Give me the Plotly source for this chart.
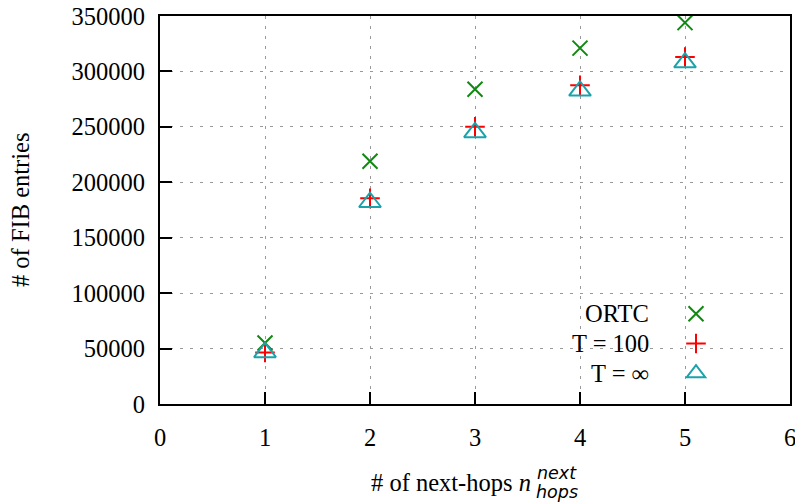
import plotly.graph_objects as go

# ---- data ----
next_hops = [1, 2, 3, 4, 5]
ortc = [55000, 219000, 284000, 321000, 344000]
t100 = [46500, 185500, 250000, 287500, 313000]
tinf = [46500, 182000, 245000, 282500, 308000]
series_names = ["ORTC", "T = 100", "T = \u221e"]
x_ticks = [0, 1, 2, 3, 4, 5, 6]
y_ticks = [0, 50000, 100000, 150000, 200000, 250000, 300000, 350000]

FONT = "Liberation Serif"
FS = 24.5
W, H = 795, 503
L, R, T, B = 160, 5, 16, 99
PW, PH = W - L - R, H - T - B

fig = go.Figure()
fig.add_trace(go.Scatter(x=next_hops, y=ortc, mode="markers", name=series_names[0],
                         marker=dict(symbol="x-thin-open", size=15, color="#118811",
                                     line=dict(width=2, color="#118811"))))
fig.add_trace(go.Scatter(x=next_hops, y=t100, mode="markers", name=series_names[1],
                         marker=dict(symbol="cross-thin-open", size=14, color="#ff0000",
                                     line=dict(width=2, color="#ff0000"))))
fig.add_trace(go.Scatter(x=next_hops, y=tinf, mode="markers", name=series_names[2],
                         marker=dict(symbol="triangle-up-open", size=19, color="#1ba3ab",
                                     line=dict(width=2, color="#1ba3ab"))))

grid = dict(showgrid=True, gridcolor="#999999", gridwidth=1.3, griddash="3px,7px")
fig.update_xaxes(range=[0, 6], tickvals=x_ticks, ticks="inside", ticklen=12, tickwidth=2,
                 tickcolor="black", showline=True, linecolor="black", linewidth=2,
                 mirror=True, zeroline=False, ticklabelstandoff=11, automargin=False,
                 ticklabeloverflow="allow",
                 tickfont=dict(family=FONT, size=FS, color="black"), **grid)
fig.update_yaxes(range=[0, 350000], tickvals=y_ticks, tickformat="d", ticks="inside",
                 ticklen=12, tickwidth=2, tickcolor="black", showline=True,
                 linecolor="black", linewidth=2, mirror=True, zeroline=False,
                 ticklabelstandoff=8, automargin=False, ticklabeloverflow="allow",
                 tickfont=dict(family=FONT, size=FS, color="black"), **grid)

# legend: symbols from plotly legend, text drawn right-aligned to their left
leg_y = [313, 343, 373]
for name, py in zip(series_names, leg_y):
    fig.add_annotation(x=(651 - L) / PW, y=(H - B - py) / PH, xref="paper", yref="paper",
                       text=name, showarrow=False, xanchor="right", yanchor="middle",
                       font=dict(family=FONT, size=FS, color="black"))

# axis titles
fig.add_annotation(x=(20 - L) / PW, y=0.5, xref="paper", yref="paper", text="# of FIB entries",
                   textangle=-90, showarrow=False, xanchor="center", yanchor="middle",
                   font=dict(family=FONT, size=FS, color="black"))
fig.add_annotation(x=(533 - L) / PW, y=(H - B - 482) / PH, xref="paper", yref="paper",
                   text="# of next-hops <i>n</i>", showarrow=False, xanchor="right",
                   yanchor="middle", font=dict(family=FONT, size=FS, color="black"))
fig.add_annotation(x=(535 - L) / PW, y=(H - B - 473) / PH, xref="paper", yref="paper",
                   text="<i>next</i>", showarrow=False, xanchor="left", yanchor="middle",
                   font=dict(family="DejaVu Sans", size=17.5, color="black"))
fig.add_annotation(x=(534 - L) / PW, y=(H - B - 492) / PH, xref="paper", yref="paper",
                   text="<i>hops</i>", showarrow=False, xanchor="left", yanchor="middle",
                   font=dict(family="DejaVu Sans", size=17.5, color="black"))

fig.update_layout(
    width=W, height=H, margin=dict(l=L, r=R, t=T, b=B, autoexpand=False),
    paper_bgcolor="white", plot_bgcolor="white",
    showlegend=True,
    legend=dict(x=(676 - L) / PW, y=(H - B - 294) / PH, xanchor="left", yanchor="top",
                bgcolor="rgba(0,0,0,0)", font=dict(family=FONT, size=20.5, color="rgba(0,0,0,0)"),
                itemwidth=30, tracegroupgap=0),
)

fig.write_html("out.html")
